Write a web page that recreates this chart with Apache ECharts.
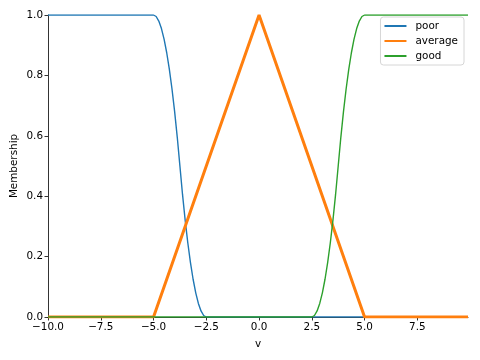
<!DOCTYPE html>
<html><head><meta charset="utf-8">
<script src="https://cdn.jsdelivr.net/npm/echarts@6/dist/echarts.min.js"></script>
<style>html,body{margin:0;padding:0;background:#fff}#c{width:480px;height:360px}</style>
</head><body><div id="c"></div>
<script>
// x positions and membership values
var poorX = [-10, -5, -4.875, -4.75, -4.625, -4.5, -4.375, -4.25, -4.125, -4, -3.875, -3.75,
             -3.625, -3.5, -3.375, -3.25, -3.125, -3, -2.875, -2.75, -2.625, -2.5, 9.9];
var poorY = [1, 1, 0.995, 0.98, 0.955, 0.92, 0.875, 0.82, 0.755, 0.68, 0.595, 0.5,
             0.405, 0.32, 0.245, 0.18, 0.125, 0.08, 0.045, 0.02, 0.005, 0, 0];
var averageX = [-10, -5, 0, 5, 9.9];
var averageY = [0, 0, 1, 0, 0];
var goodX = [-10, 2.5, 2.625, 2.75, 2.875, 3, 3.125, 3.25, 3.375, 3.5, 3.625, 3.75,
             3.875, 4, 4.125, 4.25, 4.375, 4.5, 4.625, 4.75, 4.875, 5, 9.9];
var goodY = [0, 0, 0.005, 0.02, 0.045, 0.08, 0.125, 0.18, 0.245, 0.32, 0.405, 0.5,
             0.595, 0.68, 0.755, 0.82, 0.875, 0.92, 0.955, 0.98, 0.995, 1, 1];
var seriesNames = ['poor', 'average', 'good'];
var xTicks = [-10, -7.5, -5, -2.5, 0, 2.5, 5, 7.5];
var yTicks = [0, 0.2, 0.4, 0.6, 0.8, 1.0];

function pairs(xs, ys){ return xs.map(function(x,i){ return [x, ys[i]]; }); }
function fmt(v){ return (Math.round(v*10)/10).toFixed(1).replace('-', '\u2212'); }
var font = 'DejaVu Sans';
var chart = echarts.init(document.getElementById('c'), null, {renderer:'canvas'});
chart.setOption({
  animation: false,
  backgroundColor: '#fff',
  textStyle: {fontFamily: font},
  grid: {left: 48, right: 12, top: 15, bottom: 43, containLabel: false, outerBoundsMode: 'none'},
  legend: {
    data: seriesNames,
    orient: 'vertical',
    right: 16, top: 17,
    backgroundColor: 'rgba(255,255,255,0.8)',
    borderColor: '#d6d6d6', borderWidth: 1, borderRadius: 3,
    padding: [4, 6, 4, 3],
    itemWidth: 22, itemHeight: 10, itemGap: 5,
    itemStyle: {opacity: 0},
    textStyle: {fontFamily: font, fontSize: 10.4, color: '#000', padding: [0, 0, 0, 4]}
  },
  xAxis: {
    type: 'value', min: -10, max: 9.9, interval: 2.5,
    name: 'v', nameLocation: 'middle', nameGap: 22, nameMoveOverlap: false,
    nameTextStyle: {fontFamily: font, fontSize: 10.4, color: '#000'},
    axisLine: {show: true, onZero: false, lineStyle: {color: '#000', width: 0.8}},
    axisTick: {show: true, length: 3.5, lineStyle: {color: '#000', width: 0.8}},
    axisLabel: {color: '#000', fontSize: 10.4, fontFamily: font, margin: 5, showMaxLabel: false,
      formatter: function(v){ return xTicks.some(function(t){return Math.abs(t-v)<1e-6;}) ? fmt(v) : ''; }},
    splitLine: {show: false}
  },
  yAxis: {
    type: 'value', min: 0, max: 1, interval: 0.2,
    name: 'Membership', nameLocation: 'middle', nameGap: 29, nameRotate: 90, nameMoveOverlap: false,
    nameTextStyle: {fontFamily: font, fontSize: 10.4, color: '#000'},
    axisLine: {show: true, onZero: false, lineStyle: {color: '#000', width: 0.8}},
    axisTick: {show: true, length: 3.5, lineStyle: {color: '#000', width: 0.8}},
    axisLabel: {color: '#000', fontSize: 10.4, fontFamily: font, margin: 5,
      formatter: function(v){ return yTicks.some(function(t){return Math.abs(t-v)<1e-6;}) ? fmt(v) : ''; }},
    splitLine: {show: false}
  },
  series: [
    {name: seriesNames[0], type: 'line', data: pairs(poorX, poorY), symbol: 'none', showSymbol: false,
     lineStyle: {color: '#1f77b4', width: 1.4}, itemStyle: {color: '#1f77b4'}, z: 2},
    {name: seriesNames[1], type: 'line', data: pairs(averageX, averageY), symbol: 'none', showSymbol: false,
     lineStyle: {color: '#ff7f0e', width: 3}, itemStyle: {color: '#ff7f0e'}, z: 3},
    {name: seriesNames[2], type: 'line', data: pairs(goodX, goodY), symbol: 'none', showSymbol: false,
     lineStyle: {color: '#2ca02c', width: 1.4}, itemStyle: {color: '#2ca02c'}, z: 4}
  ]
});
</script></body></html>
